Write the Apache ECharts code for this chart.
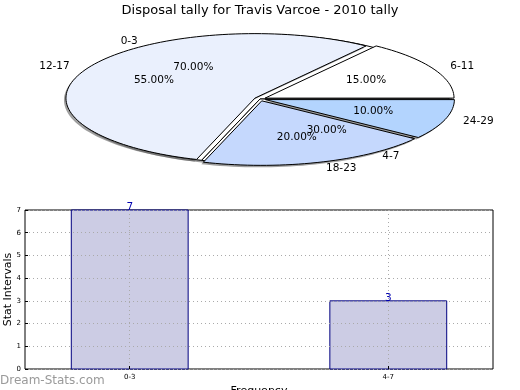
<!DOCTYPE html>
<html><head><meta charset="utf-8">
<script src="https://cdn.jsdelivr.net/npm/echarts@6/dist/echarts.min.js"></script>
<style>html,body{margin:0;padding:0;background:#fff}#c{width:520px;height:390px}</style>
</head><body><div id="c"></div>
<script>
// ---- data ----
const title = 'Disposal tally for Travis Varcoe - 2010 tally';
const innerCats = ['6-11', '12-17', '18-23', '24-29'];
const innerVals = [15, 55, 20, 10];
const outerCats = ['0-3', '4-7'];
const outerVals = [70, 30];
const barCats = ['0-3', '4-7'];
const barVals = [7, 3];
const yTicks = [0, 1, 2, 3, 4, 5, 6, 7];

const innerColors = ['#ffffff', '#eaf0fd', '#c5d8fd', '#b3d4fe'];
const FONT = 'DejaVu Sans';

function slices(vals, explode) {
  const tot = vals.reduce((a, b) => a + b, 0);
  let acc = 0;
  return vals.map((v, i) => {
    const s = acc / tot * 360; acc += v;
    const e = acc / tot * 360;
    return [s, e, v / tot * 100, i, explode];
  });
}
const innerData = slices(innerVals, 0.03);
const outerData = slices(outerVals, 0);

function makeRender(cats, colors, mode) {
  return function (params, api) {
    const s = api.value(0), e = api.value(1), pct = api.value(2), idx = api.value(3), ex = api.value(4);
    const m = (s + e) / 2 * Math.PI / 180;
    const ox = ex * Math.cos(m), oy = ex * Math.sin(m);
    const children = [];
    if (mode === 'wedge') {
      const pts = [api.coord([ox, oy])];
      const n = Math.max(4, Math.ceil((e - s) / 2));
      for (let k = 0; k <= n; k++) {
        const a = (s + (e - s) * k / n) * Math.PI / 180;
        pts.push(api.coord([ox + Math.cos(a), oy + Math.sin(a)]));
      }
      children.push({
        type: 'polygon', shape: { points: pts.map(p => [p[0] - 2, p[1] + 2]) },
        style: { fill: 'rgba(80,80,80,0.55)' }, z2: 1
      });
      children.push({
        type: 'polygon', shape: { points: pts },
        style: { fill: colors[idx], stroke: '#000', lineWidth: 1 }, z2: 2
      });
    } else {
      const lp = api.coord([ox + 1.1 * Math.cos(m), oy + 1.1 * Math.sin(m)]);
      const pp = api.coord([ox + 0.6 * Math.cos(m), oy + 0.6 * Math.sin(m)]);
      const cosm = Math.cos(m);
      children.push({
        type: 'text', x: lp[0], y: lp[1], z2: 5,
        style: { text: cats[idx], fill: '#000', font: '10.5px ' + FONT,
          align: cosm > 0.01 ? 'left' : (cosm < -0.01 ? 'right' : 'center'), verticalAlign: 'middle' }
      });
      children.push({
        type: 'text', x: pp[0], y: pp[1], z2: 5,
        style: { text: pct.toFixed(2) + '%', fill: '#000', font: '10.5px ' + FONT,
          align: 'center', verticalAlign: 'middle' }
      });
    }
    return { type: 'group', children: children };
  };
}

function renderBar(params, api) {
  const x = api.value(0), v = api.value(1);
  const w = api.size([1, 0])[0] * 0.452;
  const top = api.coord([x, v]);
  const base = api.coord([x, 0]);
  return {
    type: 'group',
    children: [
      { type: 'rect', shape: { x: top[0] - w / 2, y: top[1], width: w, height: base[1] - top[1] },
        style: { fill: '#ccccE4', stroke: '#000080', lineWidth: 1 } },
      { type: 'text', x: top[0], y: top[1] + 3, z2: 10,
        style: { text: String(v), fill: '#0000b0', font: '10.5px ' + FONT, align: 'center', verticalAlign: 'bottom' } }
    ]
  };
}

const chart = echarts.init(document.getElementById('c'), null, { renderer: 'canvas' });
chart.setOption({
  animation: false,
  title: {
    text: title, left: 'center', top: -1,
    textStyle: { fontFamily: FONT, fontSize: 13, fontWeight: 'normal', color: '#000' }
  },
  graphic: [{
    type: 'text', left: 0, top: 375,
    style: { text: 'Dream-Stats.com', fill: '#9a9a9a', font: '12px ' + FONT }
  }],
  grid: [
    { left: 71, width: 378, top: 34.5, height: 129, outerBoundsMode: 'none' },
    { left: 25, right: 27, top: 210, bottom: 21, show: true, borderColor: '#000', borderWidth: 1, outerBoundsMode: 'none' }
  ],
  xAxis: [
    { gridIndex: 0, type: 'value', min: -1, max: 1, show: false },
    {
      gridIndex: 1, type: 'value', min: -0.405, max: 1.405, z: 5, position: 'bottom',
      axisLine: { show: false, onZero: false },
      axisTick: { show: true, customValues: [0, 1], inside: true, length: 3, lineStyle: { color: '#000' } },
      axisLabel: { customValues: [0, 1], formatter: v => barCats[Math.round(v)], fontSize: 7, color: '#000', fontFamily: FONT, margin: 5 },
      splitLine: { show: true, lineStyle: { type: [1, 3], color: '#aaa' } },
      name: 'Frequency', nameLocation: 'middle', nameGap: 17, nameMoveOverlap: false,
      nameTextStyle: { fontFamily: FONT, fontSize: 11, color: '#000' }
    }
  ],
  yAxis: [
    { gridIndex: 0, type: 'value', min: -1, max: 1, show: false },
    {
      gridIndex: 1, type: 'value', min: yTicks[0], max: yTicks[yTicks.length - 1], interval: 1, z: 5, position: 'left',
      axisLine: { show: false, onZero: false },
      axisTick: { show: true, inside: true, length: 3, lineStyle: { color: '#000' } },
      axisLabel: { fontSize: 7, color: '#000', fontFamily: FONT, margin: 4 },
      splitLine: { show: true, lineStyle: { type: [1, 3], color: '#aaa' } },
      name: 'Stat Intervals', nameLocation: 'middle', nameGap: 11, nameRotate: 90, nameMoveOverlap: false,
      nameTextStyle: { fontFamily: FONT, fontSize: 11, color: '#000' }
    }
  ],
  series: [
    { type: 'custom', xAxisIndex: 0, yAxisIndex: 0, z: 1,
      renderItem: makeRender(outerCats, ['#ffffff', '#ffffff'], 'wedge'), data: outerData },
    { type: 'custom', xAxisIndex: 0, yAxisIndex: 0, z: 2,
      renderItem: makeRender(innerCats, innerColors, 'wedge'), data: innerData },
    { type: 'custom', xAxisIndex: 0, yAxisIndex: 0, z: 3,
      renderItem: makeRender(outerCats, null, 'label'), data: outerData },
    { type: 'custom', xAxisIndex: 0, yAxisIndex: 0, z: 3,
      renderItem: makeRender(innerCats, null, 'label'), data: innerData },
    { type: 'custom', xAxisIndex: 1, yAxisIndex: 1, z: 2,
      renderItem: renderBar, data: barVals.map((v, i) => [i, v]) }
  ]
});
</script></body></html>
